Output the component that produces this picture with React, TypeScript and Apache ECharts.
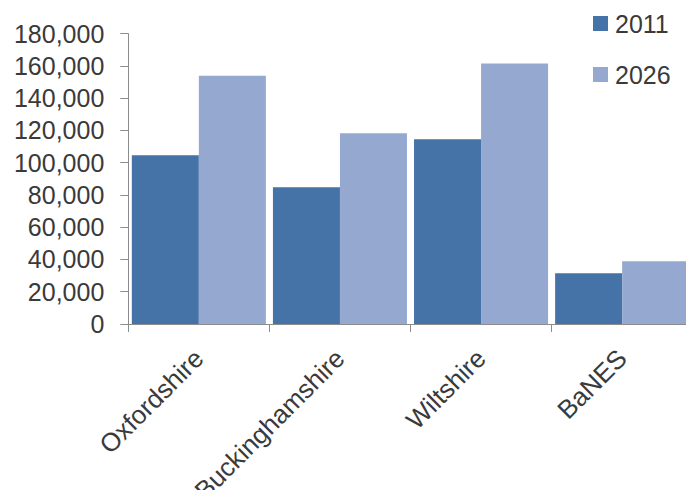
import React, { useEffect, useRef } from "react";
import * as echarts from "echarts";

// Population by area, 2011 vs projected 2026
const areas = ["Oxfordshire", "Buckinghamshire", "Wiltshire", "BaNES"];
const pop2011 = [104600, 84800, 114500, 31500];
const pop2026 = [154000, 118200, 161600, 38900];
const seriesNames = ["2011", "2026"];

const FONT = "'Liberation Sans', Arial, sans-serif";
const AXIS_GREY = "#8c8c8c";
const TEXT = "#3a3a3a";

const fmt = (v: number) => v.toLocaleString("en-US");

export default function App() {
  const ref = useRef<HTMLDivElement>(null);

  useEffect(() => {
    if (!ref.current) return;
    const chart = echarts.init(ref.current, undefined, { renderer: "svg" });
    chart.setOption({
      animation: false,
      backgroundColor: "#ffffff",
      textStyle: { fontFamily: FONT },
      grid: {
        left: 128.3,
        right: -6.7,
        top: 33.7,
        bottom: 166,
        containLabel: false,
        outerBoundsMode: "none",
      },
      legend: {
        orient: "vertical",
        left: 593,
        top: 11,
        padding: 0,
        itemWidth: 15,
        itemHeight: 15,
        itemGap: 26,
        icon: "rect",
        data: seriesNames,
        textStyle: { fontFamily: FONT, fontSize: 25, color: TEXT, padding: [0, 0, 0, 2] },
      },
      xAxis: {
        type: "category",
        data: areas,
        boundaryGap: true,
        axisLine: { lineStyle: { color: AXIS_GREY, width: 1 } },
        axisTick: { show: true, length: 8, alignWithLabel: false, lineStyle: { color: AXIS_GREY } },
        axisLabel: {
          interval: 0,
          rotate: 45,
          margin: 30,
          fontFamily: FONT,
          fontSize: 26,
          color: TEXT,
        },
        splitLine: { show: false },
      },
      yAxis: {
        type: "value",
        min: 0,
        max: 180000,
        interval: 20000,
        axisLine: { show: true, lineStyle: { color: AXIS_GREY, width: 1 } },
        axisTick: { show: true, length: 8, lineStyle: { color: AXIS_GREY } },
        axisLabel: {
          margin: 24,
          fontFamily: FONT,
          fontSize: 25,
          color: TEXT,
          formatter: (v: number) => fmt(v),
        },
        splitLine: { show: false },
      },
      series: [
        {
          name: seriesNames[0],
          type: "bar",
          data: pop2011,
          barGap: "0%",
          barCategoryGap: "5%",
          itemStyle: { color: "#4572a7" },
        },
        {
          name: seriesNames[1],
          type: "bar",
          data: pop2026,
          barGap: "0%",
          barCategoryGap: "5%",
          itemStyle: { color: "#95a9d0" },
        },
      ],
    });
    return () => chart.dispose();
  }, []);

  return <div ref={ref} style={{ width: 686, height: 490, position: "absolute", left: 0, top: 0 }} />;
}
